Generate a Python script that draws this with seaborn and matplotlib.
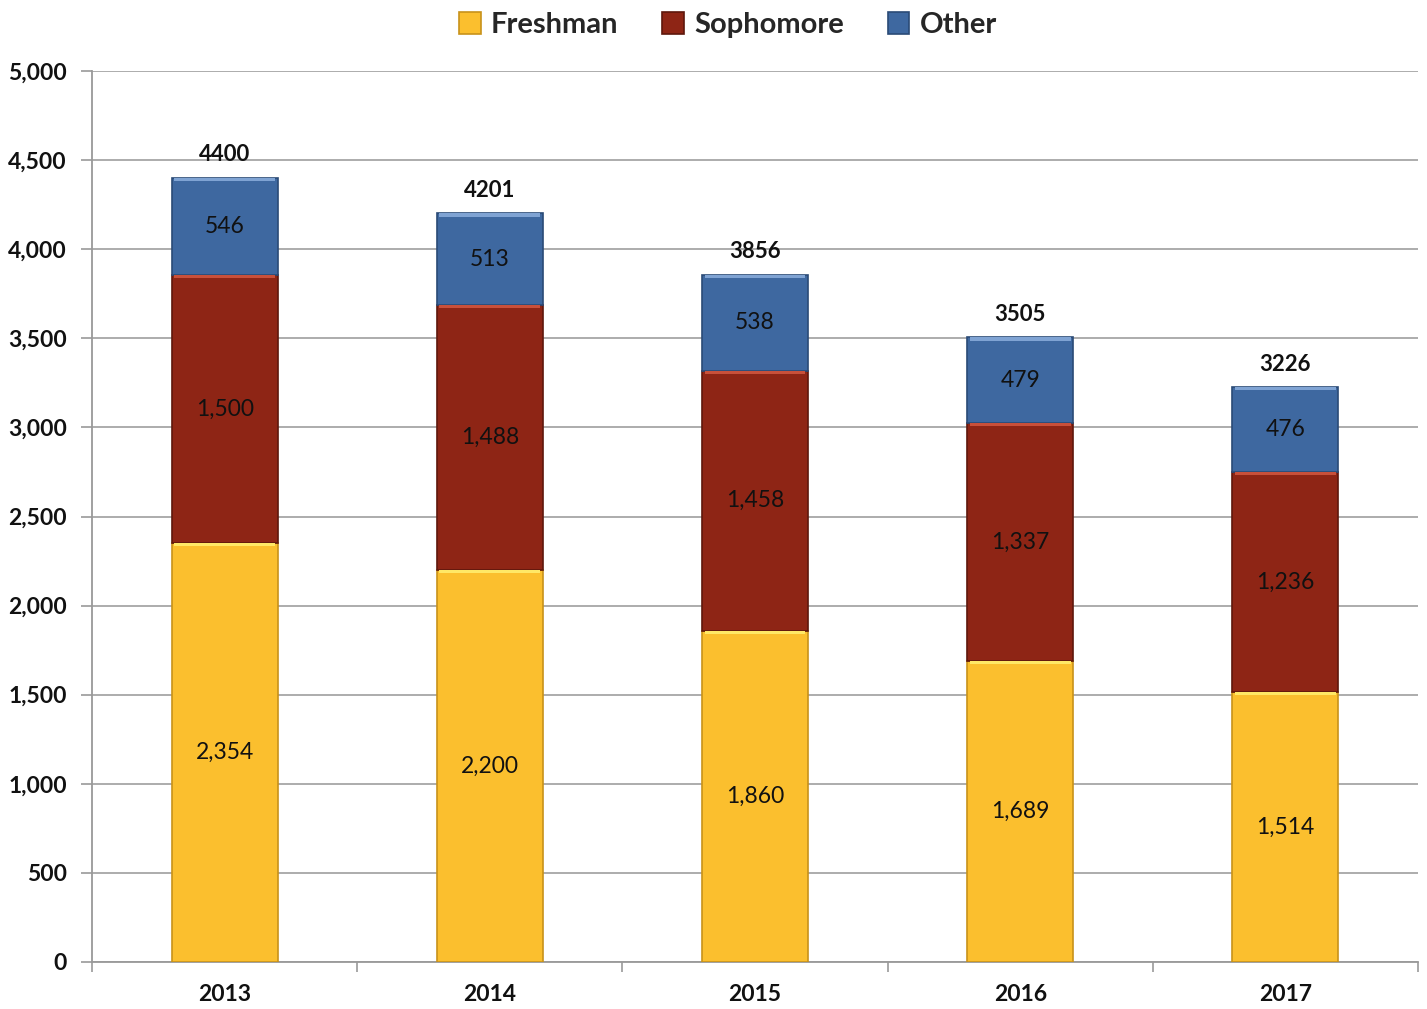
import numpy as np
import pandas as pd
import matplotlib
matplotlib.use("Agg")
import matplotlib.pyplot as plt
import seaborn as sns

# ---------------- data ----------------
years = ["2013", "2014", "2015", "2016", "2017"]
freshman = [2354, 2200, 1860, 1689, 1514]
sophomore = [1500, 1488, 1458, 1337, 1236]
other = [546, 513, 538, 479, 476]
totals = [4400, 4201, 3856, 3505, 3226]

series_names = ["Freshman", "Sophomore", "Other"]
colors = ["#FBBF2E", "#8E2515", "#3E68A0"]
edges = ["#C8921A", "#5E170C", "#2A4A76"]
highlights = ["#FFE866", "#C8503A", "#7FA3D3"]

sns.set_theme(style="white")
plt.rcParams["font.family"] = ["Lato", "DejaVu Sans"]

fig = plt.figure(figsize=(14.27, 10.09), dpi=100)
ax = fig.add_axes([0.0645, 0.0466, 0.9292, 0.883])

df = pd.DataFrame({"year": years, "Freshman": freshman,
                   "Sophomore": sophomore, "Other": other})

bottom = np.zeros(len(years))
for name, col, ec, hl in zip(series_names, colors, edges, highlights):
    vals = df[name].to_numpy()
    sns.barplot(data=df, x="year", y=name, color=col, bottom=bottom,
                width=0.4, edgecolor=ec, linewidth=1.2, ax=ax,
                saturation=1, zorder=3, label=name)
    # light band on top of each segment
    ax.bar(np.arange(len(years)), vals * 0 + 18, bottom=bottom + vals - 18,
           width=0.38, color=hl, linewidth=0, zorder=4)
    for i, v in enumerate(vals):
        ax.text(i, bottom[i] + v / 2, f"{v:,}", ha="center", va="center",
                fontsize=16.5, color="#111111", zorder=5)
    bottom = bottom + vals

for i, t in enumerate(totals):
    ax.annotate(str(t), (i, t), xytext=(0, 9), textcoords="offset points",
                ha="center", va="bottom", fontsize=16, fontweight="bold",
                color="#111111")

h, l = ax.get_legend_handles_labels()
if ax.get_legend() is not None:
    ax.get_legend().remove()

ax.set_xlim(-0.5, len(years) - 0.5)
ax.set_ylim(0, 5000)
ax.set_yticks(np.arange(0, 5001, 500))
ax.set_yticklabels([f"{v:,}" for v in range(0, 5001, 500)],
                   fontsize=16.5, fontweight="bold")
ax.set_xticks(range(len(years)))
ax.set_xticklabels(years, fontsize=16.5, fontweight="bold")
ax.set_xticks(np.arange(-0.5, len(years)), minor=True)
ax.tick_params(axis="x", which="major", bottom=False, pad=10, colors="#111111")
ax.tick_params(axis="x", which="minor", bottom=True, length=7, width=1.2,
               color="#999999", direction="out")
ax.tick_params(axis="y", left=True, length=8, width=1.2, color="#999999",
               pad=10, labelcolor="#111111")
ax.set_xlabel("")
ax.set_ylabel("")

ax.yaxis.grid(True, color="#A6A6A6", linewidth=1.3, zorder=0)
ax.set_axisbelow(True)
for s in ["top", "right"]:
    ax.spines[s].set_visible(False)
for s in ["left", "bottom"]:
    ax.spines[s].set_color("#999999")
    ax.spines[s].set_linewidth(1.3)

fig.legend(h[:3], l[:3], loc="upper center", bbox_to_anchor=(0.51, 1.014),
           ncol=3, frameon=False, handlelength=0.75, handleheight=0.75,
           columnspacing=1.5, handletextpad=0.35,
           prop={"weight": "bold", "size": 21})

fig.savefig("out.png", dpi=100, facecolor="white")
